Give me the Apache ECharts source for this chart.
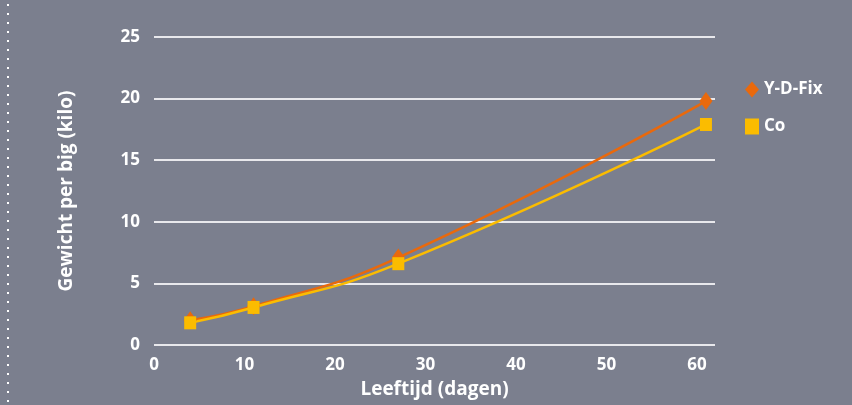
<!DOCTYPE html>
<html>
<head>
<meta charset="utf-8">
<script src="https://cdn.jsdelivr.net/npm/echarts@6/dist/echarts.min.js"></script>
<style>
  html, body { margin: 0; padding: 0; background: #7b7f8e; }
  #chart { width: 852px; height: 405px; }
</style>
</head>
<body>
<div id="chart"></div>
<script>
// leeftijd in dagen en gewicht per big
const dagen = [4, 11, 27, 61];
const ydfix = [2.0, 3.15, 7.1, 19.8];
const co = [1.8, 3.05, 6.6, 17.9];
const xTicks = [0, 10, 20, 30, 40, 50, 60];

const chart = echarts.init(document.getElementById("chart"));
const font = "'Open Sans', 'Noto Sans', sans-serif";

function pairs(vals) {
  return dagen.map((d, i) => [d, vals[i]]);
}

const option = {
  backgroundColor: "#7b7f8e",
  animation: false,
  textStyle: { fontFamily: font },
  grid: { left: 154, right: 137, top: 37, bottom: 60 },
  legend: {
    orient: "vertical",
    left: 740,
    top: 76,
    itemGap: 20,
    itemWidth: 14,
    itemHeight: 16,
    textStyle: { color: "#fff", fontSize: 17, fontWeight: "bold", fontFamily: font },
    data: [
      { name: "Y-D-Fix", icon: "diamond" },
      { name: "Co", icon: "rect" }
    ]
  },
  xAxis: {
    type: "value",
    min: 0,
    max: 62,
    interval: 10,
    name: "Leeftijd (dagen)",
    nameLocation: "middle",
    nameGap: 35,
    nameTextStyle: { color: "#fff", fontSize: 19, fontWeight: "bold" },
    axisLine: { show: false },
    axisTick: { show: false },
    splitLine: { show: false },
    axisLabel: {
      color: "#fff", fontSize: 17, fontWeight: "bold", margin: 12,
      formatter: v => (xTicks.includes(v) ? String(v) : "")
    }
  },
  yAxis: {
    type: "value",
    min: 0,
    max: 25,
    interval: 5,
    name: "Gewicht per big (kilo)",
    nameLocation: "middle",
    nameGap: 78,
    nameTextStyle: { color: "#fff", fontSize: 19, fontWeight: "bold" },
    axisLine: { show: false },
    axisTick: { show: false },
    splitLine: { lineStyle: { color: "#e8e8ec", width: 2 } },
    axisLabel: { color: "#fff", fontSize: 17, fontWeight: "bold", margin: 14 }
  },
  series: [
    {
      name: "Y-D-Fix",
      type: "line",
      smooth: 0.5,
      data: pairs(ydfix),
      symbol: "diamond",
      symbolSize: [13, 18],
      itemStyle: { color: "#e9690c" },
      lineStyle: { color: "#e9690c", width: 2.5 }
    },
    {
      name: "Co",
      type: "line",
      smooth: 0.5,
      data: pairs(co),
      symbol: "rect",
      symbolSize: [12, 13],
      itemStyle: { color: "#fbbc00" },
      lineStyle: { color: "#fbbc00", width: 2.5 }
    }
  ],
  graphic: [
    {
      type: "line",
      shape: { x1: 8, y1: 4, x2: 8, y2: 405 },
      style: { stroke: "#ffffff", lineWidth: 2, lineDash: [2, 7] }
    }
  ]
};

chart.setOption(option);
</script>
</body>
</html>
